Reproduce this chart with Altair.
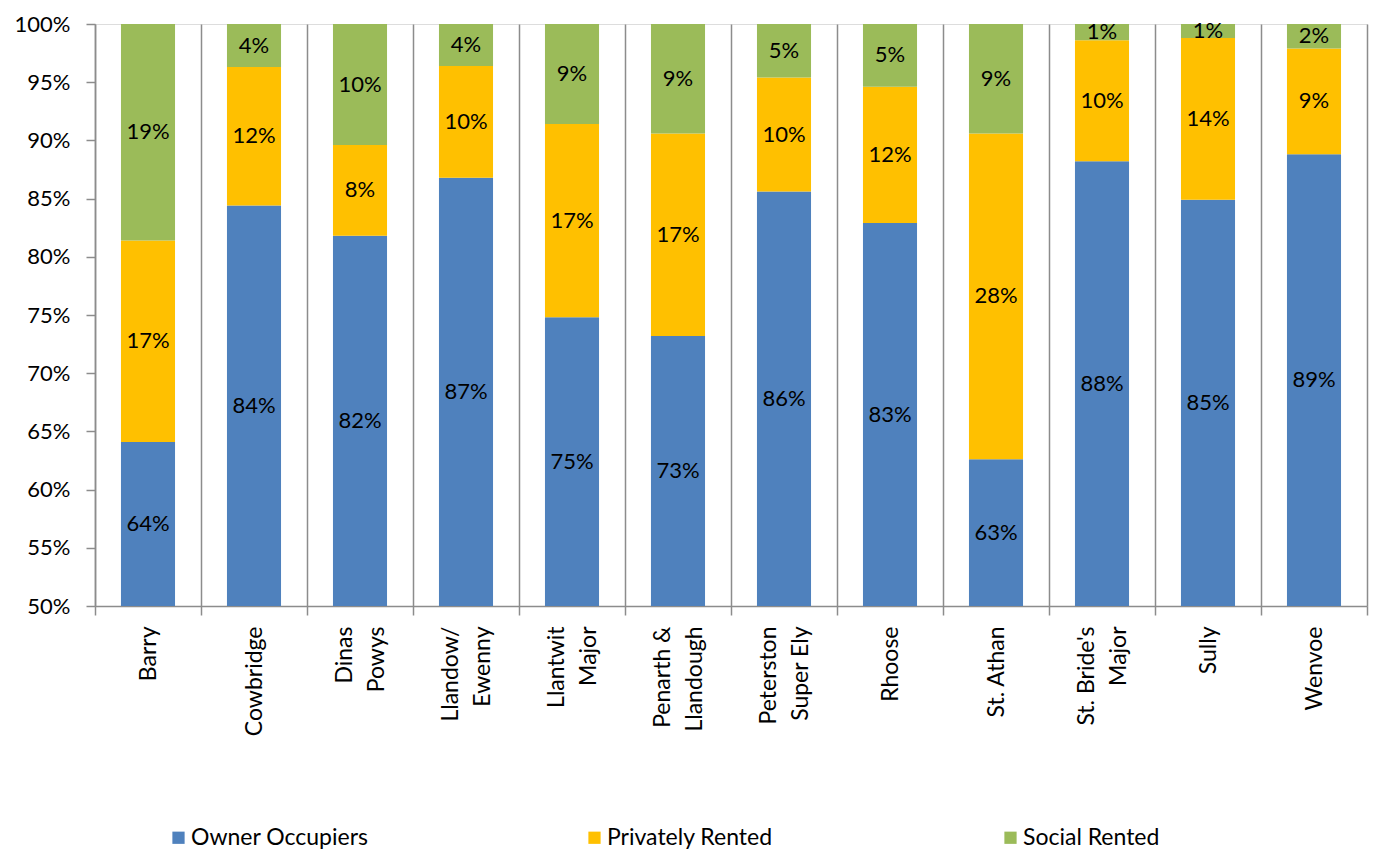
import altair as alt
import pandas as pd

categories = ["Barry", "Cowbridge", "Dinas Powys", "Llandow/ Ewenny", "Llantwit Major",
              "Penarth & Llandough", "Peterston Super Ely", "Rhoose", "St. Athan",
              "St. Bride's Major", "Sully", "Wenvoe"]
label_lines = [["Barry"], ["Cowbridge"], ["Dinas", "Powys"], ["Llandow/", "Ewenny"],
               ["Llantwit", "Major"], ["Penarth &", "Llandough"], ["Peterston", "Super Ely"],
               ["Rhoose"], ["St. Athan"], ["St. Bride's", "Major"], ["Sully"], ["Wenvoe"]]
series = ["Owner Occupiers", "Privately Rented", "Social Rented"]
colors = ["#4F81BD", "#FFC000", "#9BBB59"]

owner = [64.1, 84.4, 81.8, 86.8, 74.8, 73.2, 85.6, 82.9, 62.6, 88.2, 84.9, 88.8]
private = [17.3, 11.9, 7.8, 9.6, 16.6, 17.4, 9.8, 11.7, 28.0, 10.4, 13.9, 9.1]
social = [18.6, 3.7, 10.4, 3.6, 8.6, 9.4, 4.6, 5.4, 9.4, 1.4, 1.2, 2.1]

rows = []
for i, c in enumerate(categories):
    for k, (s, vals) in enumerate(zip(series, [owner, private, social])):
        rows.append({"cat": c, "series": s, "order": k, "value": vals[i]})
df = pd.DataFrame(rows)


def js_str(s):
    return "'" + s.replace("\\", "\\\\").replace("'", "\\'") + "'"


expr = "datum.label"
two_line = []
for c, lines in zip(categories, label_lines):
    if len(lines) > 1:
        two_line.append(c)
        arr = "[" + ",".join(js_str(l) for l in lines) + "]"
        expr = f"datum.label == {js_str(c)} ? {arr} : ({expr})"
two_line_test = "indexof([" + ",".join(js_str(c) for c in two_line) + "], datum.value) >= 0"

FONT = "Lato"
GRAY = "#8C8C8C"

base = alt.Chart(df).transform_calculate(
    frac="datum.value / 100"
).transform_stack(
    stack="frac", groupby=["cat"], as_=["y0", "y1"], sort=[alt.SortField("order")]
).transform_calculate(
    mid="(max(datum.y0, 0.5) + datum.y1) / 2",
    lab="round(datum.value) + '%'"
)

x_scale = alt.Scale(paddingInner=0, paddingOuter=0)

x_enc = alt.X(
    "cat:N", sort=categories, title=None, scale=x_scale,
    axis=alt.Axis(
        labelAngle=270, labelFontSize=23, labelFont=FONT, labelColor="black",
        labelLineHeight=32, labelPadding=11, labelLimit=400, labelExpr=expr,
        labelOffset={"condition": {"test": two_line_test, "value": -16}, "value": 0},
        grid=True, gridColor=GRAY, gridWidth=1.5, tickBand="extent",
        tickSize=9, tickColor=GRAY, tickWidth=1.5,
        domainColor=GRAY, domainWidth=1.5,
    ),
)

bars = base.mark_bar(clip=True, width=alt.RelativeBandSize(0.51)).encode(
    x=x_enc,
    y=alt.Y(
        "y0:Q", title=None,
        scale=alt.Scale(domain=[0.5, 1.0], nice=False, zero=False),
        axis=alt.Axis(
            values=[0.5, 0.55, 0.6, 0.65, 0.7, 0.75, 0.8, 0.85, 0.9, 0.95, 1.0],
            format=".0%", labelFontSize=22, labelFont=FONT, labelColor="black",
            labelPadding=16, tickSize=9, tickColor=GRAY, tickWidth=1.5,
            domainColor=GRAY, domainWidth=1.5, grid=False,
        ),
    ),
    y2="y1:Q",
    color=alt.Color(
        "series:N", scale=alt.Scale(domain=series, range=colors), title=None,
        legend=alt.Legend(
            orient="none", legendX=72, legendY=802, direction="horizontal",
            symbolType="square", symbolSize=150, symbolStrokeWidth=0,
            labelFontSize=23, labelFont=FONT, labelColor="black", labelOffset=1,
            gridAlign="all", columnPadding=214, labelLimit=400,
        ),
    ),
)

texts = base.mark_text(fontSize=22, font=FONT, color="black", baseline="middle").encode(
    x=alt.X("cat:N", sort=categories, scale=x_scale),
    y=alt.Y("mid:Q"),
    text="lab:N",
)

chart = alt.layer(bars, texts).properties(
    width=1272, height=582,
    autosize=alt.AutoSizeParams(type="none"),
    padding={"left": 95, "top": 24, "right": 8, "bottom": 244},
).configure_view(stroke=None).configure(font=FONT)

chart.save("out.html", embed_options={"renderer": "svg", "actions": False})
